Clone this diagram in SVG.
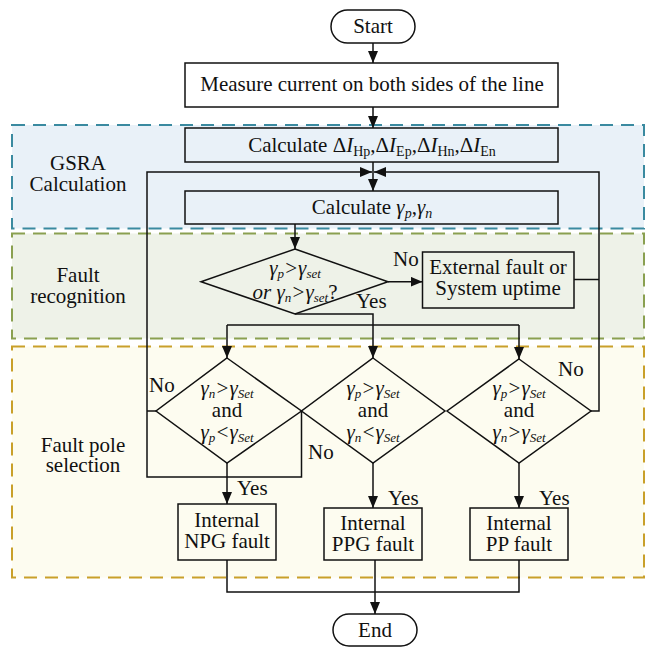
<svg xmlns="http://www.w3.org/2000/svg" width="646" height="648" viewBox="0 0 646 648">
<style>
text{font-family:"Liberation Serif","Times New Roman",serif;font-size:21px;fill:#111;text-anchor:middle}
.it{font-style:italic}
.box{fill:none;stroke:#111;stroke-width:1.5}
.wbox{fill:#fff;stroke:#111;stroke-width:1.5}
.ln{fill:none;stroke:#111;stroke-width:1.5}
.arr{fill:none;stroke:#111;stroke-width:1.5;marker-end:url(#ah)}
.lbl{text-anchor:start}
</style>
<defs>
<marker id="ah" markerUnits="userSpaceOnUse" markerWidth="12" markerHeight="10" refX="12" refY="5" orient="auto">
<path d="M0,0 L12,5 L0,10 z" fill="#111"/>
</marker>
</defs>

<g id="regions">
<rect id="region-gsra" x="12" y="125" width="632" height="103.5" fill="#e9f1f8" stroke="#3a8aa0" stroke-width="2" stroke-dasharray="13 8"/>
<rect id="region-recognition" x="12" y="233.5" width="632" height="105" fill="#eef2e8" stroke="#8aa050" stroke-width="2" stroke-dasharray="13 8"/>
<rect id="region-pole" x="12" y="346.5" width="632" height="231" fill="#fdfcf0" stroke="#c9a02a" stroke-width="2" stroke-dasharray="13 8"/>
<text x="78" y="170">GSRA<tspan x="78" dy="21">Calculation</tspan></text>
<text x="78" y="282">Fault<tspan x="78" dy="21">recognition</tspan></text>
<text x="83" y="452">Fault pole<tspan x="83" dy="20">selection</tspan></text>
</g>

<g id="connectors">
<path class="arr" d="M373,43 V63"/>
<path class="arr" d="M373,107 V128"/>
<path class="arr" d="M373,162 V191"/>
<path class="arr" d="M301.5,411 V477 H147 V172 H372" stroke="#333"/>
<path class="ln" d="M156,411 H147"/>
<path class="arr" d="M591,411 H599 V172 H374"/>
<path class="ln" d="M574,279.5 H599"/>
<path class="arr" d="M295,224 V249"/>
<path class="arr" d="M388,281.7 H422.5"/>
<path class="arr" d="M295,314 H373 V358"/>
<path class="ln" d="M227,325 H519"/>
<path class="arr" d="M227,325 V358"/>
<path class="arr" d="M519,325 V359"/>
<path class="arr" d="M227,463 V504"/>
<path class="arr" d="M373,463 V508"/>
<path class="arr" d="M519,463 V508"/>
<path class="ln" d="M227,560 V592 H519 V560"/>
<path class="arr" d="M375,560 V614"/>
</g>

<g id="start">
<rect class="wbox" x="331" y="10" width="84" height="33" rx="16.5"/>
<text x="373" y="33">Start</text>
</g>

<g id="measure">
<rect class="wbox" x="185" y="63" width="373" height="44"/>
<text x="372" y="91">Measure current on both sides of the line</text>
</g>

<g id="calc-delta">
<rect class="box" x="185" y="128" width="373" height="34"/>
<text x="372" y="152">Calculate Δ<tspan class="it">I</tspan><tspan font-size="14" dy="4">Hp</tspan><tspan dy="-4">,Δ</tspan><tspan class="it">I</tspan><tspan font-size="14" dy="4">Ep</tspan><tspan dy="-4">,Δ</tspan><tspan class="it">I</tspan><tspan font-size="14" dy="4">Hn</tspan><tspan dy="-4">,Δ</tspan><tspan class="it">I</tspan><tspan font-size="14" dy="4">En</tspan></text>
</g>

<g id="calc-gamma">
<rect class="box" x="185" y="191" width="373" height="33"/>
<text x="372" y="214">Calculate <tspan class="it">γ</tspan><tspan class="it" font-size="14" dy="4">p</tspan><tspan dy="-4">,</tspan><tspan class="it">γ</tspan><tspan class="it" font-size="14" dy="4">n</tspan></text>
</g>

<g id="recognition">
<polygon class="box" points="295,249 388,281.7 295,314 201,281.7"/>
<text x="295" y="275" class="it" font-size="19">γ<tspan font-size="13" dy="3">p</tspan><tspan dy="-3">&gt;γ</tspan><tspan font-size="13" dy="3">set</tspan><tspan x="295" dy="21">or γ</tspan><tspan font-size="13" dy="3">n</tspan><tspan dy="-3">&gt;γ</tspan><tspan font-size="13" dy="3">set</tspan><tspan dy="-3" font-style="normal">?</tspan></text>
<text class="lbl" x="393" y="266">No</text>
<text class="lbl" x="356" y="308">Yes</text>
</g>

<g id="external">
<rect class="box" x="422.5" y="252" width="151.5" height="56"/>
<text x="498" y="274">External fault or<tspan x="498" dy="21">System uptime</tspan></text>
</g>

<g id="cond-npg">
<polygon class="box" points="227,358 301.5,411 227,463 156,411"/>
<text x="227" y="395" class="it" font-size="19">γ<tspan font-size="13" dy="3">n</tspan><tspan dy="-3">&gt;γ</tspan><tspan font-size="13" dy="3">Set</tspan><tspan x="227" dy="19" font-style="normal" font-size="21">and</tspan><tspan x="227" dy="22">γ</tspan><tspan font-size="13" dy="3">p</tspan><tspan dy="-3">&lt;γ</tspan><tspan font-size="13" dy="3">Set</tspan></text>
<text class="lbl" x="149" y="392">No</text>
<text class="lbl" x="237" y="495">Yes</text>
</g>

<g id="cond-ppg">
<polygon class="box" points="373,358 445,411 373,463 301.5,411"/>
<text x="373" y="395" class="it" font-size="19">γ<tspan font-size="13" dy="3">p</tspan><tspan dy="-3">&gt;γ</tspan><tspan font-size="13" dy="3">Set</tspan><tspan x="373" dy="19" font-style="normal" font-size="21">and</tspan><tspan x="373" dy="22">γ</tspan><tspan font-size="13" dy="3">n</tspan><tspan dy="-3">&lt;γ</tspan><tspan font-size="13" dy="3">Set</tspan></text>
<text class="lbl" x="308" y="459">No</text>
<text class="lbl" x="388" y="505">Yes</text>
</g>

<g id="cond-pp">
<polygon class="box" points="519,359 591,411 519,463 447,411"/>
<text x="519" y="395" class="it" font-size="19">γ<tspan font-size="13" dy="3">p</tspan><tspan dy="-3">&gt;γ</tspan><tspan font-size="13" dy="3">Set</tspan><tspan x="519" dy="19" font-style="normal" font-size="21">and</tspan><tspan x="519" dy="22">γ</tspan><tspan font-size="13" dy="3">n</tspan><tspan dy="-3">&gt;γ</tspan><tspan font-size="13" dy="3">Set</tspan></text>
<text class="lbl" x="558" y="376">No</text>
<text class="lbl" x="539" y="505">Yes</text>
</g>

<g id="npg">
<rect class="box" x="178" y="504" width="98" height="56"/>
<text x="227" y="527">Internal<tspan x="227" dy="21">NPG fault</tspan></text>
</g>

<g id="ppg">
<rect class="box" x="324" y="508" width="98" height="52"/>
<text x="373" y="530">Internal<tspan x="373" dy="21">PPG fault</tspan></text>
</g>

<g id="pp">
<rect class="box" x="470" y="508" width="98" height="52"/>
<text x="519" y="530">Internal<tspan x="519" dy="21">PP fault</tspan></text>
</g>

<g id="end">
<rect class="wbox" x="333" y="614" width="84" height="32" rx="16"/>
<text x="375" y="637">End</text>
</g>
</svg>
